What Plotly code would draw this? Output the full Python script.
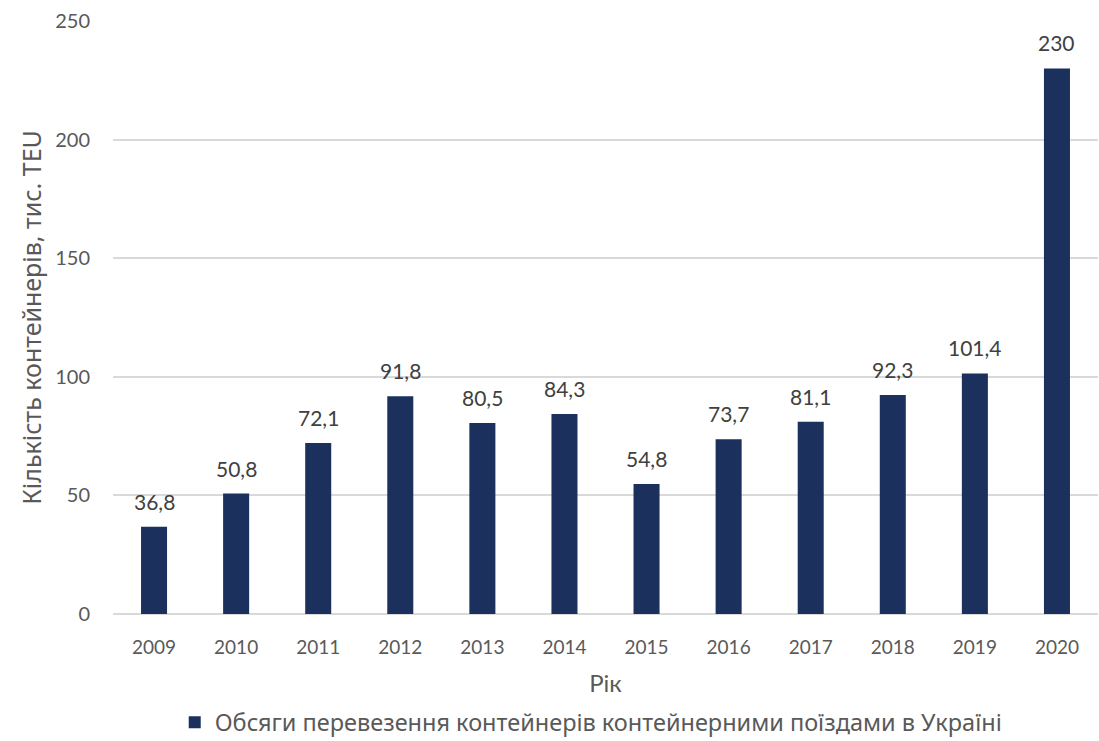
import plotly.graph_objects as go

years = ["2009", "2010", "2011", "2012", "2013", "2014", "2015", "2016", "2017", "2018", "2019", "2020"]
volumes = [36.8, 50.8, 72.1, 91.8, 80.5, 84.3, 54.8, 73.7, 81.1, 92.3, 101.4, 230]
y_ticks = [0, 50, 100, 150, 200, 250]

series_name = "Обсяги перевезення контейнерів контейнерними поїздами в Україні"
bar_color = "#1b305c"
label_color = "#404040"
axis_color = "#595959"


def fmt(v):
    return f"{v:g}".replace(".", ",")


fig = go.Figure()
fig.add_trace(go.Bar(
    x=years,
    y=volumes,
    name=series_name,
    marker=dict(color=bar_color, line=dict(width=0)),
    showlegend=True,
))

# value labels above each bar (category axis: position by index)
for i, v in enumerate(volumes):
    fig.add_annotation(
        x=i, y=v, text=fmt(v),
        showarrow=False, yanchor="bottom", yshift=11,
        font=dict(family="Lato, sans-serif", size=21, color=label_color),
    )

fig.update_layout(
    width=1099,
    height=741,
    margin=dict(l=113, r=1, t=21, b=127, autoexpand=False),
    plot_bgcolor="white",
    paper_bgcolor="white",
    bargap=0.683,
    showlegend=True,
    legend=dict(
        orientation="h",
        x=0.485,
        xanchor="center",
        yref="container",
        y=0.025,
        yanchor="middle",
        font=dict(family="Noto Sans, sans-serif", size=23.5, color=axis_color),
        itemwidth=30,
    ),
    xaxis=dict(
        type="category",
        title=dict(text="Рік", font=dict(family="Lato, sans-serif", size=24, color=axis_color), standoff=18),
        tickfont=dict(family="Lato, sans-serif", size=19, color=axis_color),
        showgrid=False,
        showline=False,
        ticks="",
        ticklabelstandoff=20,
    ),
    yaxis=dict(
        title=dict(text="Кількість контейнерів, тис. TEU",
                   font=dict(family="Noto Sans, sans-serif", size=25, color=axis_color), standoff=6),
        tickfont=dict(family="Lato, sans-serif", size=20, color=axis_color),
        range=[0, 250],
        tickvals=y_ticks,
        showgrid=True,
        gridcolor="#d9d9d9",
        gridwidth=1.5,
        zeroline=True,
        zerolinecolor="#d9d9d9",
        zerolinewidth=1.5,
        showline=False,
        ticks="",
        ticklabelstandoff=22,
    ),
)

fig.write_html("out.html")
